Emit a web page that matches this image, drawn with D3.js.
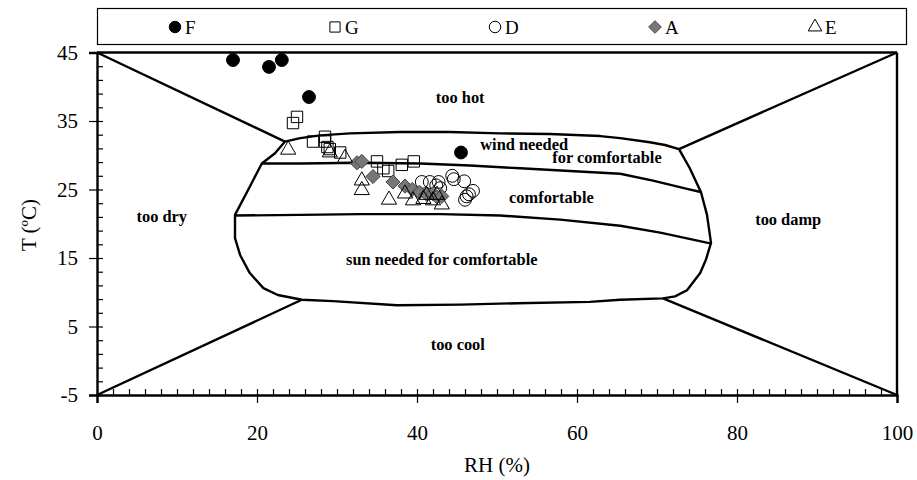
<!DOCTYPE html>
<html>
<head>
<meta charset="utf-8">
<script src="https://cdn.jsdelivr.net/npm/d3@7"></script>
<style>
  body { margin: 0; background: #fff; }
  text { font-family: "Liberation Serif", "Times New Roman", serif; }
</style>
</head>
<body>
<div id="chart"></div>
<script>
// series values: [RH %, T °C]
const seriesF = [[17.0, 43.9], [21.5, 42.9], [23.1, 43.9], [26.5, 38.5], [45.5, 30.4]];
const seriesG = [[25.0, 35.6], [24.5, 34.7], [27.0, 32.0], [28.5, 32.7], [28.5, 32.0], [28.8, 31.2],
                 [29.1, 30.9], [30.4, 30.4], [35.0, 29.1], [35.8, 28.1], [36.4, 27.7], [38.1, 28.6], [39.6, 29.1]];
const seriesD = [[40.6, 26.1], [41.6, 26.1], [42.7, 26.1], [42.9, 25.2], [42.4, 25.6], [44.4, 27.0],
                 [44.6, 26.5], [45.9, 26.2], [47.0, 24.8], [46.5, 24.3], [46.0, 23.5], [46.2, 24.0]];
const seriesA = [[32.5, 28.9], [33.1, 29.1], [34.5, 26.9], [37.0, 26.1], [38.5, 25.5], [39.4, 25.0],
                 [40.3, 24.6], [41.2, 24.3], [42.0, 24.4], [42.5, 23.9], [43.1, 24.0]];
const seriesE = [[23.9, 30.8], [29.1, 30.4], [31.0, 29.6], [33.1, 26.3], [33.1, 24.9], [36.5, 23.5],
                 [38.5, 24.4], [39.5, 23.4], [40.8, 23.6], [41.2, 24.2], [42.0, 23.4], [42.5, 24.2], [43.1, 22.8]];

// zone boundaries (bioclimatic chart), in data units
const outline = [
  [23.5, 32.0], [25.4, 32.5], [27.9, 32.9], [31.6, 33.2], [37.9, 33.4], [44.1, 33.4], [50.4, 33.2],
  [56.6, 33.1], [62.9, 32.8], [65.4, 32.5], [69.1, 31.9], [71.0, 31.5], [72.75, 30.9],
  [74.1, 28.1], [75.5, 24.6], [76.25, 21.3], [76.75, 17.2], [76.1, 14.7], [75.4, 12.8], [73.75, 10.3],
  [72.25, 9.4], [70.75, 9.1], [65.4, 8.9], [61.6, 8.6], [52.5, 8.4], [45.4, 8.2], [37.5, 8.1],
  [29.5, 8.7], [25.6, 8.9], [22.6, 9.6], [20.8, 10.6], [19.1, 12.8], [17.9, 15.4], [17.25, 17.9],
  [17.25, 21.3], [19.1, 25.4], [20.6, 28.8], [22.25, 30.3], [23.5, 32.0]
];
const windLine = [[20.6, 28.8], [25.4, 28.8], [32.9, 28.9], [40.4, 28.8], [46.6, 28.5], [52.9, 28.1],
                  [59.1, 27.7], [65.4, 27.3], [69.5, 26.3], [73.75, 25.1], [75.6, 24.6]];
const sunLine = [[17.25, 21.2], [25.4, 21.3], [32.9, 21.4], [42.9, 21.4], [50.4, 21.2], [57.9, 20.6],
                 [65.4, 19.7], [70.4, 18.7], [76.8, 17.1]];
const diagonals = [
  [[0, 45], [23.5, 32.0]], [[100, 45], [72.75, 30.9]],
  [[0, -5], [25.6, 8.9]], [[100, -5], [70.75, 9.1]],
  [[0, 45], [100, 45]], [[100, 45], [100, -5]]
];

const zoneLabels = [
  { text: "too hot", x: 45.4, y: 38.5 },
  { text: "wind needed", x: 53.4, y: 31.6 },
  { text: "for comfortable", x: 63.75, y: 29.7 },
  { text: "comfortable", x: 56.8, y: 23.9 },
  { text: "too dry", x: 8.1, y: 21.0 },
  { text: "too damp", x: 86.4, y: 20.55 },
  { text: "sun needed for comfortable", x: 43.1, y: 14.8 },
  { text: "too cool", x: 45.1, y: 2.4 }
];

const legendNames = ["F", "G", "D", "A", "E"];
const xTicks = [0, 20, 40, 60, 80, 100];
const yTicks = [-5, 5, 15, 25, 35, 45];

const width = 917, height = 480;
const svg = d3.select("#chart").append("svg")
  .attr("width", width).attr("height", height);

const x = d3.scaleLinear().domain([0, 100]).range([97, 897]);
const y = d3.scaleLinear().domain([-5, 45]).range([395, 52.5]);

const line = d3.line().x(d => x(d[0])).y(d => y(d[1]));

// zone lines
const zones = svg.append("g").attr("fill", "none").attr("stroke", "#000").attr("stroke-width", 2.4)
  .attr("stroke-linejoin", "round");
zones.append("path").attr("d", line(outline));
zones.append("path").attr("d", line(windLine));
zones.append("path").attr("d", line(sunLine));
diagonals.forEach(d => zones.append("path").attr("d", line(d)));

// zone labels
svg.append("g").selectAll("text").data(zoneLabels).join("text")
  .attr("x", d => x(d.x)).attr("y", d => y(d.y))
  .attr("text-anchor", "middle").attr("dominant-baseline", "central")
  .attr("font-size", 16.4).attr("font-weight", "bold")
  .text(d => d.text);

// axes
svg.append("g").attr("transform", `translate(0,${y(-5)})`)
  .call(d3.axisBottom(x).tickValues(xTicks).tickSize(8).tickPadding(22).tickFormat(d => String(d)));
svg.append("g").attr("transform", `translate(0,${y(-5)})`)
  .call(d3.axisTop(x).tickValues(d3.range(0, 101, 2)).tickSize(6).tickFormat(""))
  .call(g => g.select(".domain").remove());
svg.append("g").attr("transform", `translate(${x(0)},0)`)
  .call(d3.axisLeft(y).tickValues(yTicks).tickSize(8).tickPadding(11).tickFormat(d => String(d)));
svg.append("g").attr("transform", `translate(${x(0)},0)`)
  .call(d3.axisRight(y).tickValues(d3.range(-5, 46, 2)).tickSize(6).tickFormat(""))
  .call(g => g.select(".domain").remove());

svg.selectAll(".domain").attr("stroke-width", 2.4);
svg.selectAll(".tick line").attr("stroke-width", 1.2);
svg.selectAll(".tick text").attr("font-size", 21).attr("fill", "#000")
  .attr("font-family", "'Liberation Serif', 'Times New Roman', serif");

svg.append("text").attr("x", 497).attr("y", 472).attr("text-anchor", "middle")
  .attr("font-size", 21).text("RH (%)");
svg.append("text").attr("transform", "translate(36,225) rotate(-90)").attr("text-anchor", "middle")
  .attr("font-size", 21).text("T (ºC)");

// markers
const diamond = { draw(ctx, size) { const r = Math.sqrt(size / 2); ctx.moveTo(0, -r); ctx.lineTo(r, 0); ctx.lineTo(0, r); ctx.lineTo(-r, 0); ctx.closePath(); } };
const sym = {
  F: { type: d3.symbolCircle, size: 130, fill: "#000", stroke: "#000" },
  G: { type: d3.symbolSquare, size: 130, fill: "none", stroke: "#000" },
  D: { type: d3.symbolCircle, size: 130, fill: "none", stroke: "#000" },
  A: { type: diamond, size: 100, fill: "#777", stroke: "#444" },
  E: { type: d3.symbolTriangle, size: 100, fill: "none", stroke: "#000" }
};
const allSeries = { F: seriesF, G: seriesG, D: seriesD, A: seriesA, E: seriesE };

["D", "G", "A", "E", "F"].forEach(k => {
  const s = sym[k];
  svg.append("g").selectAll("path").data(allSeries[k]).join("path")
    .attr("transform", d => `translate(${x(d[0])},${y(d[1])})`)
    .attr("d", d3.symbol().type(s.type).size(s.size))
    .attr("fill", s.fill).attr("stroke", s.stroke).attr("stroke-width", 1);
});

// legend
svg.append("rect").attr("x", 97.5).attr("y", 8.5).attr("width", 809).attr("height", 36)
  .attr("fill", "#fff").attr("stroke", "#000").attr("stroke-width", 1.2);
const legendX = d3.scalePoint().domain(legendNames).range([183, 823]);
const leg = svg.append("g").selectAll("g").data(legendNames).join("g")
  .attr("transform", d => `translate(${legendX(d)},27)`);
leg.append("path")
  .attr("transform", "translate(-8,0)")
  .attr("d", d => d3.symbol().type(sym[d].type).size(sym[d].size * 0.8)())
  .attr("fill", d => sym[d].fill).attr("stroke", d => sym[d].stroke);
leg.append("text").attr("x", 2).attr("dominant-baseline", "central")
  .attr("font-size", 19).text(d => d);
</script>
</body>
</html>
